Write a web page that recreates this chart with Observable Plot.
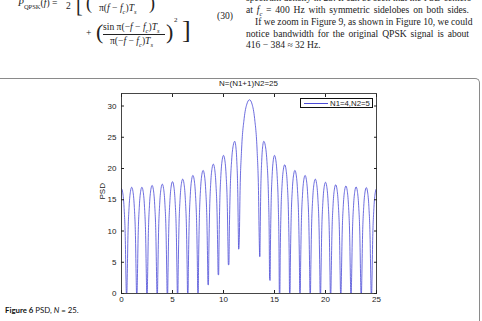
<!DOCTYPE html>
<html><head><meta charset="utf-8">
<script src="https://cdn.jsdelivr.net/npm/d3@7"></script>
<script src="https://cdn.jsdelivr.net/npm/@observablehq/plot@0.6"></script>
<style>
html,body{margin:0;padding:0;background:#fff;}
body{width:482px;height:321px;position:relative;overflow:hidden;font-family:"Liberation Serif","DejaVu Serif",serif;color:#222;}
.abs{position:absolute;white-space:nowrap;}
.tl{position:absolute;left:246px;width:223px;font-size:9.6px;line-height:11.7px;text-align:justify;text-align-last:justify;white-space:nowrap;}
.eq{position:absolute;white-space:nowrap;font-size:9.6px;font-family:"Liberation Serif",serif;}
.frame{position:absolute;left:-10px;top:78px;width:489px;height:260px;border-top:1px solid #8a8a8a;border-right:1px solid #8a8a8a;border-top-right-radius:5px;}
.sans{font-family:"Liberation Sans",Arial,sans-serif;font-size:8px;color:#222;}
#plot{position:absolute;left:0;top:80px;}
.legend{position:absolute;left:300px;top:97.5px;width:73px;height:10.5px;border:0.8px solid #111;background:#fff;box-sizing:border-box;}
.legend .ln{position:absolute;left:3px;top:4.5px;width:24px;height:0;border-top:1px solid #4b4bd8;}
.legend .lt{position:absolute;left:29px;top:0.5px;font-family:"Liberation Sans",Arial,sans-serif;font-size:7.8px;line-height:9px;color:#222;}
.caption{position:absolute;left:5px;top:305px;font-family:Lato,"Open Sans",sans-serif;font-size:7.8px;color:#111;white-space:nowrap;}
</style></head><body>
<!-- surrounding article text -->
<div class="eq" style="left:18px;top:-3px;"><i>P</i><sub style="font-size:6.5px">QPSK</sub>(<i>f</i>) = </div>
<div class="eq" style="left:66px;top:0px;font-size:9.6px;">2</div>
<div class="eq" style="left:76px;top:-6px;font-size:20px;">[</div>
<div class="eq" style="left:86px;top:-7px;font-size:18px;">(</div>
<div class="eq" style="left:99px;top:2px;">π(<i>f</i> − <i>f<sub style="font-size:6.5px">c</sub></i>)<i>T<sub style="font-size:6.5px">s</sub></i></div>
<div class="eq" style="left:149px;top:-7px;font-size:18px;">)</div>
<div class="eq" style="left:217px;top:10px;">(30)</div>
<div class="eq" style="left:86px;top:27px;">+</div>
<div class="eq" style="left:96px;top:19px;font-size:22px;">(</div>
<div class="eq" style="left:103px;top:21px;">sin π(−<i>f</i> − <i>f<sub style="font-size:6.5px">c</sub></i>)<i>T<sub style="font-size:6.5px">s</sub></i></div>
<div class="abs" style="left:103px;top:33.5px;width:62px;height:0;border-top:0.7px solid #222;"></div>
<div class="eq" style="left:110px;top:35px;">π(−<i>f</i> − <i>f<sub style="font-size:6.5px">c</sub></i>)<i>T<sub style="font-size:6.5px">s</sub></i></div>
<div class="eq" style="left:166px;top:19px;font-size:22px;">)</div>
<div class="eq" style="left:174px;top:16px;font-size:7px;">2</div>
<div class="eq" style="left:182px;top:15px;font-size:26px;">]</div>

<div class="tl" style="top:-7.7px;">spectrum density in 23. It can be seen that the PSD centers</div>
<div class="tl" style="top:4.2px;">at <i>f<sub style="font-size:6.5px;line-height:0">c</sub></i> = 400 Hz with symmetric sidelobes on both sides.</div>
<div class="tl" style="top:15.9px;left:255px;width:214px;">If we zoom in Figure 9, as shown in Figure 10, we could</div>
<div class="tl" style="top:27.5px;">notice bandwidth for the original QPSK signal is about</div>
<div class="tl" style="top:39.2px;text-align:left;text-align-last:left;">416 − 384 ≈ 32 Hz.</div>

<div class="frame"></div>
<div class="abs sans" style="left:0;width:497px;text-align:center;top:78.5px;">N=(N1+1)N2=25</div>
<div id="plot"></div>
<div class="abs sans" style="left:95px;top:188px;transform:rotate(-90deg);transform-origin:center;width:14px;text-align:center;">PSD</div>
<div class="legend"><div class="ln"></div><div class="lt">N1=4,N2=5</div></div>
<div class="caption"><b>Figure 6</b> PSD, <i>N</i> = 25.</div>

<script>
// Values
const peakFreq = [0, 1, 2, 3, 4, 5, 6, 7, 8, 9, 10, 11.1, 12.55, 13.95, 15, 16, 17, 18, 19, 20, 21, 22, 23, 24, 25];
const peakPSD  = [16.8, 17.0, 17.0, 17.3, 17.5, 17.9, 18.3, 18.9, 19.7, 20.7, 22.1, 24.35, 31.0, 24.35, 22.1, 20.6, 19.7, 18.9, 18.3, 17.8, 17.4, 17.2, 17.05, 16.95, 16.8];
const troughFreq = [0.5, 1.5, 2.5, 3.5, 4.5, 5.5, 6.5, 7.5, 8.5, 9.5, 10.5, 11.5, 13.55, 14.55, 15.5, 16.5, 17.5, 18.5, 19.5, 20.5, 21.5, 22.5, 23.5, 24.5];
const troughPSD  = [0, 0, 0, 0, 0, 0, 0, 0, 1.4, 3.0, 4.6, 7.1, 5.9, 2.1, 0, 0, 0, 0, 0, 0, 0, 0, 0, 0];
// lobe arch profile: drop below the lobe peak at fractions of trough->peak distance
const lobeFrac = [0.05, 0.12, 0.25, 0.5, 0.75];
const lobeDrop = [22, 14.5, 8.3, 3.0, 0.7];
const xTicks = [0, 5, 10, 15, 20, 25];
const yTicks = [0, 5, 10, 15, 20, 25, 30];
const seriesName = "N1=4,N2=5";
const lineColor = "#4848d6";

const points = [];
for (let i = 0; i < peakFreq.length; i++) {
  const px = peakFreq[i], py = peakPSD[i];
  if (i > 0) {
    const tx = troughFreq[i - 1], ty = troughPSD[i - 1];
    points.push({f: tx, psd: ty});
    for (let j = 0; j < lobeFrac.length; j++)
      points.push({f: tx + (px - tx) * lobeFrac[j], psd: Math.max(ty, py - lobeDrop[j])});
  }
  points.push({f: px, psd: py});
  if (i < troughFreq.length) {
    const tx = troughFreq[i], ty = troughPSD[i];
    for (let j = lobeFrac.length - 1; j >= 0; j--)
      points.push({f: tx + (px - tx) * lobeFrac[j], psd: Math.max(ty, py - lobeDrop[j])});
  }
}

const chart = Plot.plot({
  width: 482, height: 230,
  marginLeft: 121, marginRight: 106, marginTop: 13, marginBottom: 17,
  x: {domain: [0, 25]},
  y: {domain: [0, 32]},
  style: {fontFamily: "'Liberation Sans', Arial, sans-serif", fontSize: "8px", color: "#222", background: "transparent", overflow: "visible"},
  marks: [
    Plot.line(points, {x: "f", y: "psd", stroke: lineColor, strokeWidth: 0.8, curve: "monotone-x", clip: true}),
    Plot.frame({stroke: "#333", strokeWidth: 0.9}),
    Plot.axisX(xTicks, {anchor: "bottom", tickSize: 0, tickPadding: 3, label: null}),
    Plot.axisX(xTicks, {anchor: "bottom", tickSize: -3, fill: "none", label: null}),
    Plot.axisX(xTicks, {anchor: "top", tickSize: -3, fill: "none", label: null}),
    Plot.axisY(yTicks, {anchor: "left", tickSize: 0, tickPadding: 5, label: null}),
    Plot.axisY(yTicks, {anchor: "left", tickSize: -3, fill: "none", label: null}),
    Plot.axisY(yTicks, {anchor: "right", tickSize: -3, fill: "none", label: null})
  ]
});
document.getElementById("plot").appendChild(chart);
</script>
</body></html>
